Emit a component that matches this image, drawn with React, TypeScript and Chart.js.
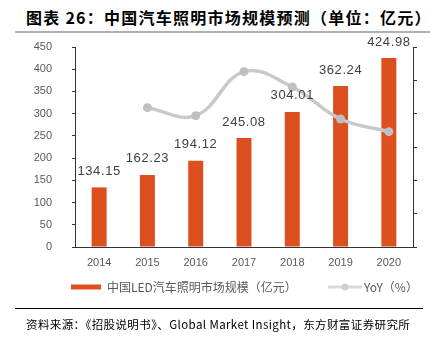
import React, { useEffect, useRef } from 'react';
import { Chart, registerables } from 'chart.js';

Chart.register(...registerables);

const titleText = '图表 26：中国汽车照明市场规模预测（单位：亿元）';
const sourceText = '资料来源：《招股说明书》、Global Market Insight，东方财富证券研究所';
const categories = ['2014', '2015', '2016', '2017', '2018', '2019', '2020'];
const marketSize = [134.15, 162.23, 194.12, 245.08, 304.01, 362.24, 424.98];
const yoyPct = [null, 20.9, 19.7, 26.3, 24.0, 19.2, 17.3];
const seriesNames = ['中国LED汽车照明市场规模（亿元）', 'YoY（%）'];
const leftAxis = { min: 0, max: 450, step: 50 };
const rightAxis = { min: 0, max: 30, step: 5 };

const BAR_COLOR = '#DD4F1F';
const LINE_COLOR = '#C9C9C9';
const AXIS_COLOR = '#333333';
const TICK_COLOR = '#595959';
const SANS = '"Liberation Sans", Arial, sans-serif';
const CJK = '"Noto Sans CJK SC", sans-serif';

const barLabels = {
  id: 'barLabels',
  afterDatasetsDraw(chart: any) {
    const meta = chart.getDatasetMeta(0);
    const ctx = chart.ctx;
    ctx.save();
    ctx.font = `13px ${SANS}`;
    ctx.fillStyle = '#404040';
    ctx.textAlign = 'center';
    ctx.textBaseline = 'middle';
    try { (ctx as any).letterSpacing = '0.6px'; } catch (e) {}
    meta.data.forEach((el: any, i: number) => {
      const v = chart.data.datasets[0].data[i] as number;
      ctx.fillText(v.toFixed(2), el.x, el.y - 16);
    });
    ctx.restore();
  },
};

const customLegend = {
  id: 'customLegend',
  afterDraw(chart: any) {
    const ctx = chart.ctx;
    const ds = chart.data.datasets;
    const y = 287;
    ctx.save();
    ctx.fillStyle = ds[0].backgroundColor;
    ctx.fillRect(71, y - 2.5, 30, 5);
    ctx.font = `12px ${CJK}`;
    ctx.fillStyle = TICK_COLOR;
    ctx.textBaseline = 'middle';
    ctx.textAlign = 'left';
    ctx.fillText(ds[0].label, 107, y);
    ctx.strokeStyle = '#D9D9D9';
    ctx.lineWidth = 3;
    ctx.beginPath();
    ctx.moveTo(328, y);
    ctx.lineTo(362, y);
    ctx.stroke();
    ctx.fillStyle = '#CFCFCF';
    ctx.beginPath();
    ctx.arc(345, y, 3.5, 0, Math.PI * 2);
    ctx.fill();
    ctx.fillStyle = TICK_COLOR;
    ctx.fillText(ds[1].label, 364, y);
    ctx.restore();
  },
};

export default function App() {
  const canvasRef = useRef<HTMLCanvasElement | null>(null);

  useEffect(() => {
    if (!canvasRef.current) return;
    const chart = new Chart(canvasRef.current, {
      type: 'bar',
      data: {
        labels: categories,
        datasets: [
          {
            type: 'bar',
            label: seriesNames[0],
            data: marketSize,
            backgroundColor: BAR_COLOR,
            borderWidth: 0,
            barPercentage: 0.31,
            categoryPercentage: 1,
            yAxisID: 'y',
            order: 2,
          } as any,
          {
            type: 'line',
            label: seriesNames[1],
            data: yoyPct,
            borderColor: LINE_COLOR,
            backgroundColor: '#BFBFBF',
            borderWidth: 3.5,
            pointRadius: 4.5,
            pointBackgroundColor: '#BFBFBF',
            pointBorderWidth: 0,
            tension: 0.4,
            yAxisID: 'y1',
            order: 1,
          } as any,
        ],
      },
      options: {
        responsive: false,
        animation: false,
        layout: { padding: { top: 47, left: 0, right: 0, bottom: 73 } },
        plugins: {
          legend: { display: false },
          tooltip: { enabled: false },
        },
        scales: {
          x: {
            grid: { display: false },
            border: { display: true, color: AXIS_COLOR, width: 1 },
            ticks: { color: TICK_COLOR, font: { size: 11, family: SANS }, padding: 1 },
            afterFit: (s: any) => { s.height = 20; },
          },
          y: {
            position: 'left',
            min: leftAxis.min,
            max: leftAxis.max,
            ticks: { stepSize: leftAxis.step, color: TICK_COLOR, font: { size: 11, family: SANS }, padding: 20 },
            grid: { drawOnChartArea: false, tickLength: 3, color: AXIS_COLOR },
            border: { color: AXIS_COLOR, width: 1 },
            afterFit: (s: any) => { s.width = 75; },
          },
          y1: {
            position: 'right',
            min: rightAxis.min,
            max: rightAxis.max,
            ticks: { stepSize: rightAxis.step, display: false },
            grid: { drawOnChartArea: false, tickLength: 4, color: AXIS_COLOR },
            border: { color: AXIS_COLOR, width: 1 },
            afterFit: (s: any) => { s.width = 21; },
          },
        } as any,
      },
      plugins: [barLabels, customLegend],
    });
    return () => chart.destroy();
  }, []);

  return (
    <div style={{ position: 'fixed', left: 0, top: 0, width: 434, height: 340, background: '#fff', overflow: 'hidden' }}>
      <div style={{ position: 'absolute', left: 26, top: 9, fontFamily: CJK, fontWeight: 700, fontSize: 16, lineHeight: '17px', letterSpacing: '1.25px', color: '#000', whiteSpace: 'nowrap' }}>
        {titleText}
      </div>
      <div style={{ position: 'absolute', left: 15, top: 31, width: 415, height: 1.5, background: '#B0B0B0' }} />
      <canvas ref={canvasRef} width={434} height={340} style={{ position: 'absolute', left: 0, top: 0, width: 434, height: 340 }} />
      <div style={{ position: 'absolute', left: 15, top: 308, width: 408, height: 1, background: '#000' }} />
      <div style={{ position: 'absolute', left: 26, top: 318, fontFamily: CJK, fontSize: 11.5, lineHeight: '13px', letterSpacing: '0.4px', color: '#000', whiteSpace: 'nowrap' }}>
        {sourceText}
      </div>
    </div>
  );
}
